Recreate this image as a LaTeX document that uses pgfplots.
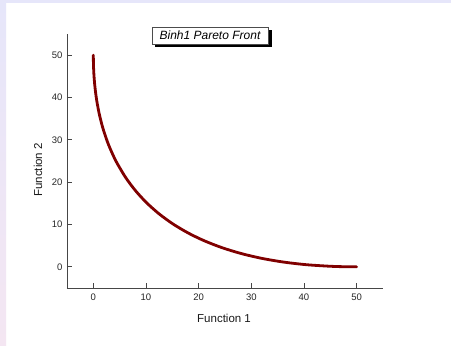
\documentclass[border=0pt]{standalone}
\usepackage{pgfplots}
\pgfplotsset{compat=1.18}
\usepackage{fontspec}
\setmainfont{Liberation Sans}
\definecolor{lav}{RGB}{230,230,250}
\definecolor{lavpink}{RGB}{244,230,242}
\definecolor{curve}{RGB}{128,0,0}
\definecolor{spine}{RGB}{70,70,70}
\begin{document}
\begin{tikzpicture}[x=1pt,y=1pt]
\fill[white] (0,0) rectangle (451,346);
\fill[lav] (0,343) rectangle (451,346);
\shade[top color=lav,bottom color=lavpink] (0,0) rectangle (6,346);
\begin{axis}[
  at={(67pt,58pt)}, anchor=south west,
  scale only axis, width=316pt, height=254pt,
  xmin=-5, xmax=55, ymin=-5, ymax=55,
  axis x line*=bottom, axis y line*=left,
  axis line style={-,spine,line width=0.8pt},
  xtick={0,10,20,30,40,50}, ytick={0,10,20,30,40,50},
  tick align=inside, major tick length=5pt,
  tick style={spine,line width=0.8pt},
  minor tick num=0,
  tick label style={font=\fontsize{9.5}{11}\selectfont, text=black!85},
  /pgf/number format/assume math mode=true,
  xticklabel style={yshift=-2pt},
  yticklabel style={xshift=-1pt},
  xlabel={Function 1}, ylabel={Function 2},
  label style={font=\fontsize{11.5}{13}\selectfont, text=black!90},
  xlabel style={at={(axis description cs:0.497,-0.118)}, anchor=center},
  ylabel style={at={(axis description cs:-0.092,0.465)}, anchor=center},
  clip=false,
]
\addplot[curve, line width=2.8pt, line cap=round, smooth] coordinates {
(0,50) (0.005,49.005) (0.02,48.02) (0.045,47.045) (0.08,46.08) (0.125,45.125)
(0.245,43.245) (0.405,41.405) (0.5,40.5) (0.72,38.72) (1.125,36.125)
(1.62,33.62) (2,32) (2.645,29.645) (3.125,28.125) (3.92,25.92) (4.5,24.5)
(6.125,21.125) (8,18) (10.125,15.125) (12.5,12.5) (15.125,10.125)
(18,8) (21.125,6.125) (24.5,4.5) (28.125,3.125) (32,2) (36.125,1.125)
(40.5,0.5) (45.125,0.125) (48.02,0.02) (50,0)
};
\end{axis}
\fill[black] (155,299) rectangle (272,316);
\node[draw=black!70, fill=white, line width=0.5pt, minimum width=116pt, minimum height=17pt, inner sep=0pt,
  font=\fontsize{12}{14}\selectfont\itshape] at (210,310.5) {Binh1 Pareto Front};
\end{tikzpicture}
\end{document}
